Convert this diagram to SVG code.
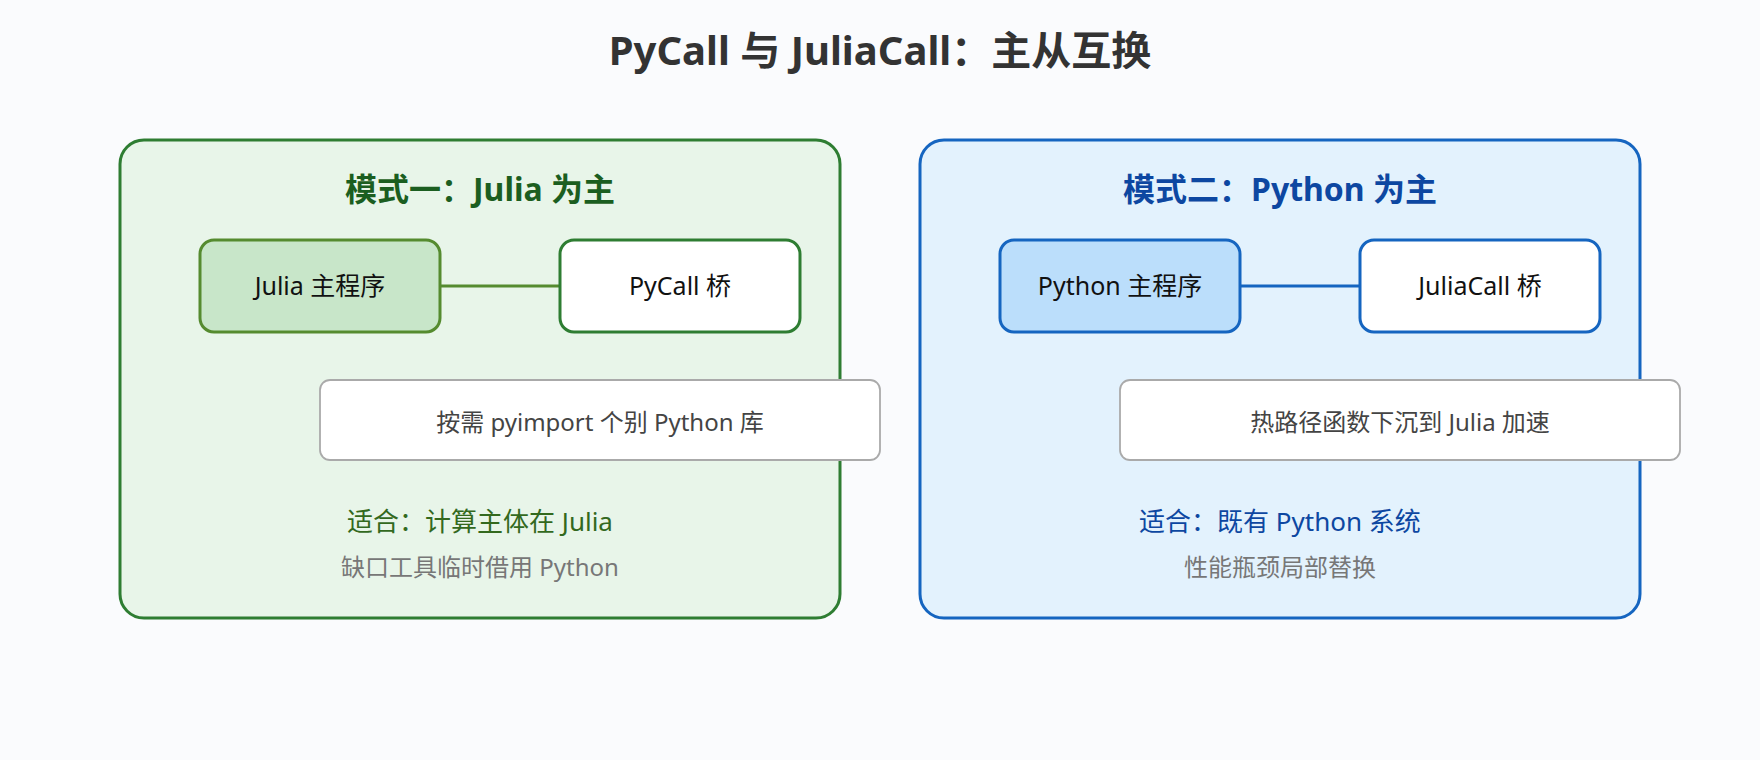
<svg xmlns="http://www.w3.org/2000/svg" width="1760" height="760" viewBox="0 0 1760 760">
<style>
text{font-family:"Noto Sans","Noto Sans CJK SC",sans-serif;text-anchor:middle}
.title{font-size:40px;font-weight:bold;fill:#333}
.ptitle{font-size:32px;font-weight:bold}
.node{font-size:25px;fill:#111}
.note{font-size:24px;fill:#444}
.fit{font-size:26px}
.sub{font-size:24px;fill:#777}
.notebox{fill:#fff;stroke:#aaa;stroke-width:1.8}
</style>
<rect width="1760" height="760" fill="#fafbfd"/>
<text class="title" x="880" y="65">PyCall 与 JuliaCall：主从互换</text>
<g id="panel-julia">
<rect x="120" y="140" width="720" height="478" rx="24" fill="#e8f5e9" stroke="#2e7d32" stroke-width="3"/>
<text class="ptitle" x="480" y="201" fill="#1b5e20">模式一：Julia 为主</text>
</g>
<g id="panel-python">
<rect x="920" y="140" width="720" height="478" rx="24" fill="#e3f2fd" stroke="#1565c0" stroke-width="3"/>
<text class="ptitle" x="1280" y="201" fill="#0d47a1">模式二：Python 为主</text>
</g>
<g id="connectors">
<line x1="440" y1="286" x2="560" y2="286" stroke="#558b2f" stroke-width="3"/>
<line x1="1240" y1="286" x2="1360" y2="286" stroke="#1565c0" stroke-width="3"/>
</g>
<g id="julia-main">
<rect x="200" y="240" width="240" height="92" rx="14" fill="#c8e6c9" stroke="#558b2f" stroke-width="3"/>
<text class="node" x="320" y="295">Julia 主程序</text>
</g>
<g id="pycall-bridge">
<rect x="560" y="240" width="240" height="92" rx="14" fill="#fff" stroke="#2e7d32" stroke-width="3"/>
<text class="node" x="680" y="295">PyCall 桥</text>
</g>
<g id="python-main">
<rect x="1000" y="240" width="240" height="92" rx="14" fill="#bbdefb" stroke="#1565c0" stroke-width="3"/>
<text class="node" x="1120" y="295">Python 主程序</text>
</g>
<g id="juliacall-bridge">
<rect x="1360" y="240" width="240" height="92" rx="14" fill="#fff" stroke="#1565c0" stroke-width="3"/>
<text class="node" x="1480" y="295">JuliaCall 桥</text>
</g>
<g id="note-julia">
<rect class="notebox" x="320" y="380" width="560" height="80" rx="10"/>
<text class="note" x="600" y="431">按需 pyimport 个别 Python 库</text>
</g>
<g id="note-python">
<rect class="notebox" x="1120" y="380" width="560" height="80" rx="10"/>
<text class="note" x="1400" y="431">热路径函数下沉到 Julia 加速</text>
</g>
<g id="fit-julia">
<text class="fit" x="480" y="531" fill="#33691e">适合：计算主体在 Julia</text>
<text class="sub" x="480" y="576">缺口工具临时借用 Python</text>
</g>
<g id="fit-python">
<text class="fit" x="1280" y="531" fill="#0d47a1">适合：既有 Python 系统</text>
<text class="sub" x="1280" y="576">性能瓶颈局部替换</text>
</g>
</svg>
